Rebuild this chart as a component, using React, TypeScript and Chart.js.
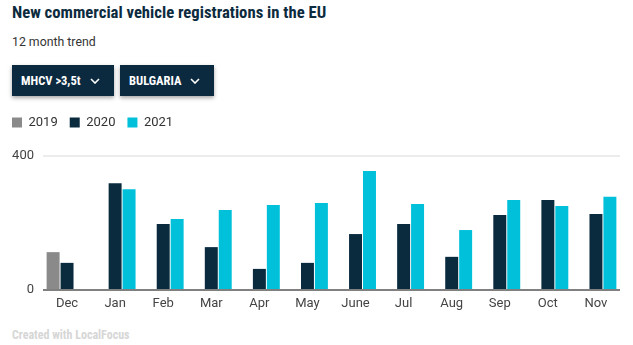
import React, { useEffect, useRef } from "react";
import { Chart, registerables } from "chart.js";

Chart.register(...registerables);

const categories = ["Dec", "Jan", "Feb", "Mar", "Apr", "May", "June", "Jul", "Aug", "Sep", "Oct", "Nov"];
const series2019 = [113, null, null, null, null, null, null, null, null, null, null, null];
const series2020 = [81, 319, 197, 128, 63, 81, 167, 197, 99, 224, 269, 227];
const series2021 = [null, 301, 212, 239, 254, 260, 355, 257, 179, 269, 251, 278];
const seriesNames = ["2019", "2020", "2021"];
const seriesColors = ["#8a8a8a", "#0a2a3e", "#00c0da"];
const yTicks = [0, 400];

const condensed = "'Roboto Condensed', 'Liberation Sans Narrow', 'Arial Narrow', Roboto, sans-serif";

function Chevron() {
  return (
    <svg width="10" height="6" viewBox="0 0 10 6" style={{ marginLeft: 9, display: "inline-block" }}>
      <polyline points="1,1 5,5 9,1" fill="none" stroke="#ffffff" strokeWidth="1.6" />
    </svg>
  );
}

function Button({ label, left, width }: { label: string; left: number; width: number }) {
  return (
    <div
      style={{
        position: "absolute",
        left,
        top: 65,
        width,
        height: 31,
        background: "#0b2a3f",
        boxShadow: "0 2px 4px rgba(0,0,0,0.35)",
        color: "#fff",
        fontFamily: condensed,
        fontWeight: 700,
        fontSize: 12.5,
        display: "flex",
        alignItems: "center",
        paddingLeft: 9,
        boxSizing: "border-box",
      }}
    >
      <span>{label}</span>
      <Chevron />
    </div>
  );
}

export default function App() {
  const canvasRef = useRef<HTMLCanvasElement | null>(null);

  useEffect(() => {
    if (!canvasRef.current) return;
    const legendSpace = {
      id: "legendSpace",
      beforeInit(chart: any) {
        const legend = chart.legend;
        if (!legend) return;
        const orig = legend.fit;
        legend.fit = function () {
          orig.bind(legend)();
          this.height = 52;
        };
      },
    };
    const chart = new Chart(canvasRef.current, {
      type: "bar",
      data: {
        labels: categories,
        datasets: [series2019, series2020, series2021].map((d, i) => ({
          label: seriesNames[i],
          data: d,
          backgroundColor: seriesColors[i],
          borderWidth: 0,
          categoryPercentage: 0.87,
          barPercentage: 0.93,
        })),
      },
      options: {
        animation: false,
        responsive: false,
        maintainAspectRatio: false,
        layout: { padding: { left: 0, right: 13, top: 0, bottom: 0 } },
        plugins: {
          legend: {
            position: "top",
            align: "start",
            labels: {
              boxWidth: 10,
              boxHeight: 10,
              padding: 12,
              color: "#333333",
              font: { family: "Roboto", size: 13 },
            },
          },
          tooltip: { enabled: false },
        },
        scales: {
          x: {
            grid: { display: false, drawTicks: false },
            border: { display: false },
            ticks: { color: "#444444", font: { family: "Roboto", size: 13 }, padding: 6 },
            afterFit(scale: any) {
              scale.height = 28;
            },
          },
          y: {
            min: 0,
            max: 400,
            afterBuildTicks(scale: any) {
              scale.ticks = yTicks.map((v) => ({ value: v }));
            },
            afterFit(scale: any) {
              scale.width = 43;
            },
            border: { display: false },
            grid: {
              drawTicks: false,
              lineWidth: 2,
              color: (ctx: any) => (ctx.tick && ctx.tick.value === 0 ? "#808080" : "#ececec"),
            },
            ticks: { color: "#444444", font: { family: "Roboto", size: 13 }, padding: 9 },
          },
        },
      },
      plugins: [legendSpace],
    });
    return () => chart.destroy();
  }, []);

  return (
    <div
      style={{
        position: "fixed",
        left: 0,
        top: 0,
        width: 633,
        height: 345,
        background: "#ffffff",
        overflow: "hidden",
      }}
    >
      <div
        style={{
          position: "absolute",
          left: 12,
          top: 3,
          fontFamily: condensed,
          fontWeight: 700,
          fontSize: 16.7,
          color: "#0d2b3e",
          whiteSpace: "nowrap",
        }}
      >
        New commercial vehicle registrations in the EU
      </div>
      <div
        style={{
          position: "absolute",
          left: 12,
          top: 35,
          fontFamily: "Roboto",
          fontSize: 12.3,
          color: "#333333",
          whiteSpace: "nowrap",
        }}
      >
        12 month trend
      </div>
      <Button label="MHCV >3,5t" left={12} width={102} />
      <Button label="BULGARIA" left={120} width={94} />
      <canvas
        ref={canvasRef}
        width={633}
        height={214}
        style={{ position: "absolute", left: 0, top: 104, width: 633, height: 214 }}
      />
      <div
        style={{
          position: "absolute",
          left: 12,
          top: 328,
          fontFamily: condensed,
          fontWeight: 700,
          fontSize: 12,
          color: "#d6d6d6",
          whiteSpace: "nowrap",
        }}
      >
        Created with LocalFocus
      </div>
    </div>
  );
}
